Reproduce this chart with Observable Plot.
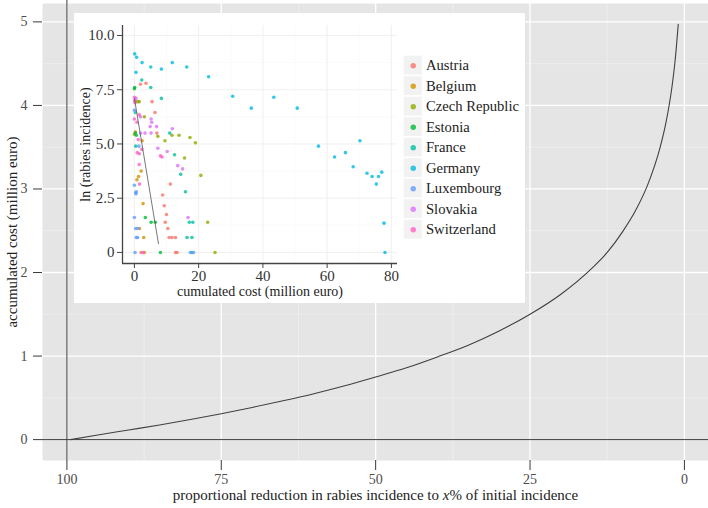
<!DOCTYPE html>
<html><head><meta charset="utf-8">
<script src="https://cdn.jsdelivr.net/npm/d3@7"></script>
<script src="https://cdn.jsdelivr.net/npm/@observablehq/plot@0.6"></script>
<style>
body{margin:0;background:#fff;}
#wrap{position:relative;width:708px;height:508px;overflow:hidden;background:#fff;}
#wrap svg{display:block;}
#inset{position:absolute;left:74px;top:13px;width:451px;height:290px;background:#fff;}
#legend{position:absolute;left:329px;top:40px;}
</style></head>
<body><div id="wrap"><div id="main"></div><div id="inset"><div id="insetplot"></div><div id="legend"></div></div></div>
<script>
// ---- main chart data: accumulated cost vs proportional reduction
const reductionPct = [99.4, 95, 90, 85, 80, 75, 70, 65, 60, 55, 50, 45, 40, 35, 30, 25, 20, 15, 12.5, 10, 8, 6, 5, 4, 3, 2.5, 2, 1.5, 1.0];
const accumulatedCost = [0, 0.055, 0.115, 0.175, 0.24, 0.31, 0.385, 0.465, 0.55, 0.645, 0.75, 0.86, 0.99, 1.13, 1.30, 1.50, 1.74, 2.05, 2.24, 2.49, 2.73, 3.04, 3.24, 3.48, 3.79, 3.99, 4.23, 4.54, 4.97];
const mainXTicks = [100, 75, 50, 25, 0];
const mainXMinor = [87.5, 62.5, 37.5, 12.5];
const mainYTicks = [0, 1, 2, 3, 4, 5];
const mainYMinor = [0.5, 1.5, 2.5, 3.5, 4.5];

// ---- inset data: [cumulated cost (million euro), ln(rabies incidence)]
const countries = ["Austria", "Belgium", "Czech Republic", "Estonia", "France", "Germany", "Luxembourg", "Slovakia", "Switzerland"];
const countryColors = ["#F8766D", "#D39200", "#93AA00", "#00BA38", "#00C19F", "#00B9E3", "#619CFF", "#DB72FB", "#FF61C3"];
const austria = [[1.9,7.75],[3.6,7.8],[5.5,6.95],[6.4,6.45],[7.0,5.5],[11.2,3.15],[8.8,2.65],[9.3,2.15],[10.0,1.75],[9.6,1.39],[10.4,1.1],[10.8,0.69],[11.7,0.69],[12.8,0.69],[2.1,0],[12.8,0],[13.3,0]];
const belgium = [[2.4,5.15],[2.1,3.75],[1.3,3.5],[0.8,3.35],[2.7,2.25],[1.6,1.1],[2.9,0.69],[3.1,0],[0.3,5.55]];
const czech = [[0.3,6.95],[1.1,6.95],[1.5,6.95],[3.1,6.25],[0,5.45],[7.3,5.35],[11.7,5.4],[13.9,5.4],[17.3,5.3],[19.0,5.05],[9.5,5.15],[15.6,4.35],[20.7,3.55],[22.8,1.39],[25.1,0]];
const estonia = [[0,7.55],[0.1,7.6],[0.3,5.5],[0.6,5.4],[3.4,1.61],[5.2,1.39],[6.5,1.39],[8.1,0]];
const france = [[2.3,7.95],[5.1,7.6],[8.4,7.1],[11.0,5.5],[12.5,4.5],[14.4,3.6],[15.9,2.8],[17.1,1.39],[18.2,1.39],[16.4,0.69],[17.9,0.69],[17.9,0],[0.4,4.9],[0.3,6.45]];
const germany = [[0.1,9.15],[0.7,9.0],[2.4,8.75],[5.1,8.55],[8.4,8.45],[11.8,8.75],[16.3,8.55],[23.1,8.1],[0.5,8.3],[30.6,7.2],[36.4,6.65],[43.4,7.15],[50.7,6.65],[57.3,4.9],[62.3,4.4],[65.7,4.6],[68.1,3.95],[70.2,5.15],[72.4,3.65],[74.0,3.5],[75.3,3.15],[76.0,3.5],[77.0,3.7],[77.7,1.35],[78.0,0]];
const luxembourg = [[0,6.55],[0,3.1],[0.4,2.75],[0.5,2.7],[0.6,2.8],[0,1.61],[0.4,1.1],[1.0,1.1],[0.6,0.69],[1.0,0.69],[0.2,0],[17.4,0],[18.4,0],[1.4,4.9]];
const slovakia = [[1.9,6.25],[5.2,6.15],[5.4,6.0],[4.9,5.8],[6.9,5.8],[1.9,5.5],[3.3,5.5],[5.2,5.5],[11.8,5.7],[7.3,4.8],[10.2,4.65],[13.5,4.0],[15.0,3.85],[16.7,1.61],[0.5,7.1]];
const switzerland = [[0,7.15],[0.1,7.0],[0.2,6.9],[1.5,6.35],[0,6.15],[0.8,6.0],[1.2,5.2],[0.9,4.6],[1.5,4.55],[2.3,4.75],[1.5,4.05],[1.6,3.15],[8.1,4.45],[8.6,4.4],[2.7,0]];
const fitCost = [0, 7.5];
const fitLnInc = [7.1, 0.4];
const insetXTicks = [0, 20, 40, 60, 80];
const insetXMinor = [10, 30, 50, 70];
const insetYTicks = [0, 2.5, 5, 7.5, 10];
const insetYMinor = [1.25, 3.75, 6.25, 8.75];

const serif = "'Liberation Serif', 'DejaVu Serif', serif";

// ---- main chart
const curve = reductionPct.map((x, i) => ({x, y: accumulatedCost[i]}));
const mainX = [103.95, -3.9], mainY = [-0.25, 5.22];
const main = Plot.plot({
  width: 708, height: 508,
  marginLeft: 42, marginRight: 0, marginTop: 3, marginBottom: 48,
  style: {fontFamily: serif, fontSize: "13px", background: "transparent"},
  x: {domain: mainX, label: null},
  y: {domain: mainY, label: null},
  marks: [
    Plot.frame({fill: "#E5E5E5", stroke: null}),
    Plot.ruleX(mainXMinor, {stroke: "#F4F4F4", strokeWidth: 0.6}),
    Plot.ruleY(mainYMinor, {stroke: "#F4F4F4", strokeWidth: 0.6}),
    Plot.ruleX(mainXTicks, {stroke: "#FFFFFF", strokeWidth: 1.3}),
    Plot.ruleY(mainYTicks, {stroke: "#FFFFFF", strokeWidth: 1.3}),
    Plot.ruleX([100], {stroke: "#3a3a3a", strokeWidth: 1, insetTop: -3}),
    Plot.ruleY([0], {stroke: "#3a3a3a", strokeWidth: 1}),
    Plot.line(curve, {x: "x", y: "y", stroke: "#404040", strokeWidth: 1.1, curve: "monotone-x"}),
    Plot.axisX(mainXTicks, {tickSize: 10, tickPadding: 4, fontSize: 14, stroke: "#3a3a3a", fill: "#4d4d4d", label: null, tickFormat: d => String(d)}),
    Plot.axisY(mainYTicks, {tickSize: 9, tickPadding: 6, fontSize: 14, stroke: "#3a3a3a", fill: "#4d4d4d", label: null, tickFormat: d => String(d)}),
    Plot.text(["proportional reduction in rabies incidence to x% of initial incidence"], {frameAnchor: "bottom", dy: 39, fontSize: 15, fill: "#222", textAnchor: "middle"}),
    Plot.text(["accumulated cost (million euro)"], {frameAnchor: "left", dx: -30, rotate: -90, fontSize: 15, fill: "#222", textAnchor: "middle"})
  ]
});
document.getElementById("main").appendChild(main);
// italic x in the x title
main.querySelectorAll("text").forEach(t => {
  if (t.textContent === "proportional reduction in rabies incidence to x% of initial incidence") {
    t.innerHTML = "proportional reduction in rabies incidence to <tspan font-style=\"italic\">x</tspan>% of initial incidence";
  }
});

// ---- inset chart
const series = [austria, belgium, czech, estonia, france, germany, luxembourg, slovakia, switzerland];
const points = series.flatMap((arr, k) => arr.map(([c, v]) => ({country: countries[k], cost: c, lnInc: v})));
const fit = fitCost.map((c, i) => ({cost: c, lnInc: fitLnInc[i]}));
const inX = [-3.7, 81.9], inY = [-0.51, 10.46];
const inset = Plot.plot({
  width: 451, height: 290,
  marginLeft: 48, marginRight: 128, marginTop: 12, marginBottom: 40,
  style: {fontFamily: serif, fontSize: "15px", background: "transparent"},
  x: {domain: inX, label: null},
  y: {domain: inY, label: null},
  color: {domain: countries, range: countryColors},
  marks: [
    Plot.ruleX(insetXMinor, {stroke: "#F7F7F7", strokeWidth: 0.6}),
    Plot.ruleY(insetYMinor, {stroke: "#F7F7F7", strokeWidth: 0.6}),
    Plot.ruleX(insetXTicks, {stroke: "#EEEEEE", strokeWidth: 0.9}),
    Plot.ruleY(insetYTicks, {stroke: "#EEEEEE", strokeWidth: 0.9}),
    Plot.dot(points, {x: "cost", y: "lnInc", fill: "country", r: 1.8, fillOpacity: 0.8, stroke: null}),
    Plot.line(fit, {x: "cost", y: "lnInc", stroke: "#555", strokeWidth: 0.8}),
    Plot.ruleX([inX[0]], {stroke: "#444", strokeWidth: 1.3}),
    Plot.ruleY([inY[0]], {stroke: "#444", strokeWidth: 1.3}),
    Plot.axisX(insetXTicks, {tickSize: 5, tickPadding: 2, fontSize: 15, stroke: "#444", fill: "#333", label: null, tickFormat: d => String(d)}),
    Plot.axisY(insetYTicks, {tickSize: 5, tickPadding: 3, fontSize: 15, stroke: "#444", fill: "#333", label: null, tickFormat: d => d === 0 ? "0" : d.toFixed(1)}),
    Plot.text(["cumulated cost (million euro)"], {frameAnchor: "bottom", dy: 32, fontSize: 14, fill: "#222", textAnchor: "middle"}),
    Plot.text(["ln (rabies incidence)"], {frameAnchor: "left", dx: -37, rotate: -90, fontSize: 14, fill: "#222", textAnchor: "middle"})
  ]
});
document.getElementById("insetplot").appendChild(inset);

// ---- legend
const legend = Plot.plot({
  width: 125, height: 192, margin: 0,
  style: {fontFamily: serif, fontSize: "15px", background: "transparent"},
  x: {domain: [0, 125], axis: null},
  y: {domain: countries, axis: null, padding: 0},
  color: {domain: countries, range: countryColors},
  marks: [
    Plot.barX(countries, {y: d => d, x1: 0, x2: 20, fill: "#F2F2F2", stroke: "#fff", strokeWidth: 1.5}),
    Plot.dot(countries, {y: d => d, x: 10, fill: d => d, r: 2.8, fillOpacity: 0.8}),
    Plot.text(countries, {y: d => d, x: 23, text: d => d, textAnchor: "start", fill: "#222"})
  ]
});
document.getElementById("legend").appendChild(legend);
</script>
</body></html>
